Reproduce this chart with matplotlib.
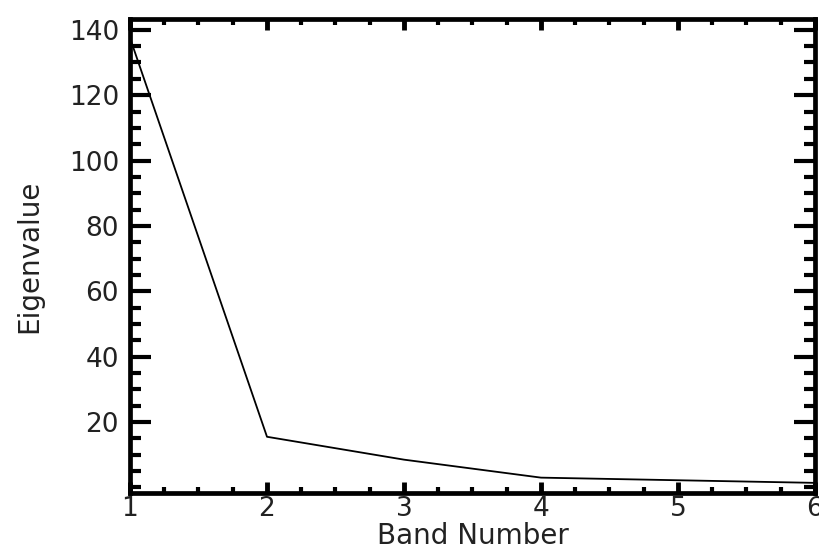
import matplotlib
matplotlib.use("Agg")
import matplotlib.pyplot as plt
from matplotlib.ticker import MultipleLocator, FixedLocator

band = [1, 2, 3, 4, 5, 6]
eigen = [137.5, 15.5, 8.5, 3.0, 2.2, 1.4]
xticks = [1, 2, 3, 4, 5, 6]
yticks = [20, 40, 60, 80, 100, 120, 140]

plt.rcParams['font.family'] = ['DejaVu Sans']
fig = plt.figure(figsize=(8.2, 5.52), dpi=100)
ax = fig.add_axes([130/820, 1-493/552, (815-130)/820, (493-19)/552])
ax.plot(band, eigen, color='black', lw=1.3)
ax.set_xlim(1, 6)
ax.set_ylim(-1.7, 143.3)
ax.xaxis.set_major_locator(FixedLocator(xticks))
ax.xaxis.set_minor_locator(MultipleLocator(0.25))
ax.yaxis.set_major_locator(FixedLocator(yticks))
ax.yaxis.set_minor_locator(MultipleLocator(5))
for s in ax.spines.values():
    s.set_linewidth(3.4)
ax.tick_params(axis='both', which='both', direction='in', top=True, right=True,
               colors='black', labelcolor='#222222', labelsize=19)
ax.tick_params(axis='y', which='major', length=15, width=3, pad=8)
ax.tick_params(axis='y', which='minor', length=8, width=3)
ax.tick_params(axis='x', which='major', length=8, width=3.5, pad=2)
ax.tick_params(axis='x', which='minor', length=4, width=3)
ax.set_xlabel('Band Number', fontsize=20, color='#222222', labelpad=0)
ax.set_ylabel('Eigenvalue', fontsize=20, color='#222222', labelpad=18)
fig.savefig('out.png', dpi=100)
